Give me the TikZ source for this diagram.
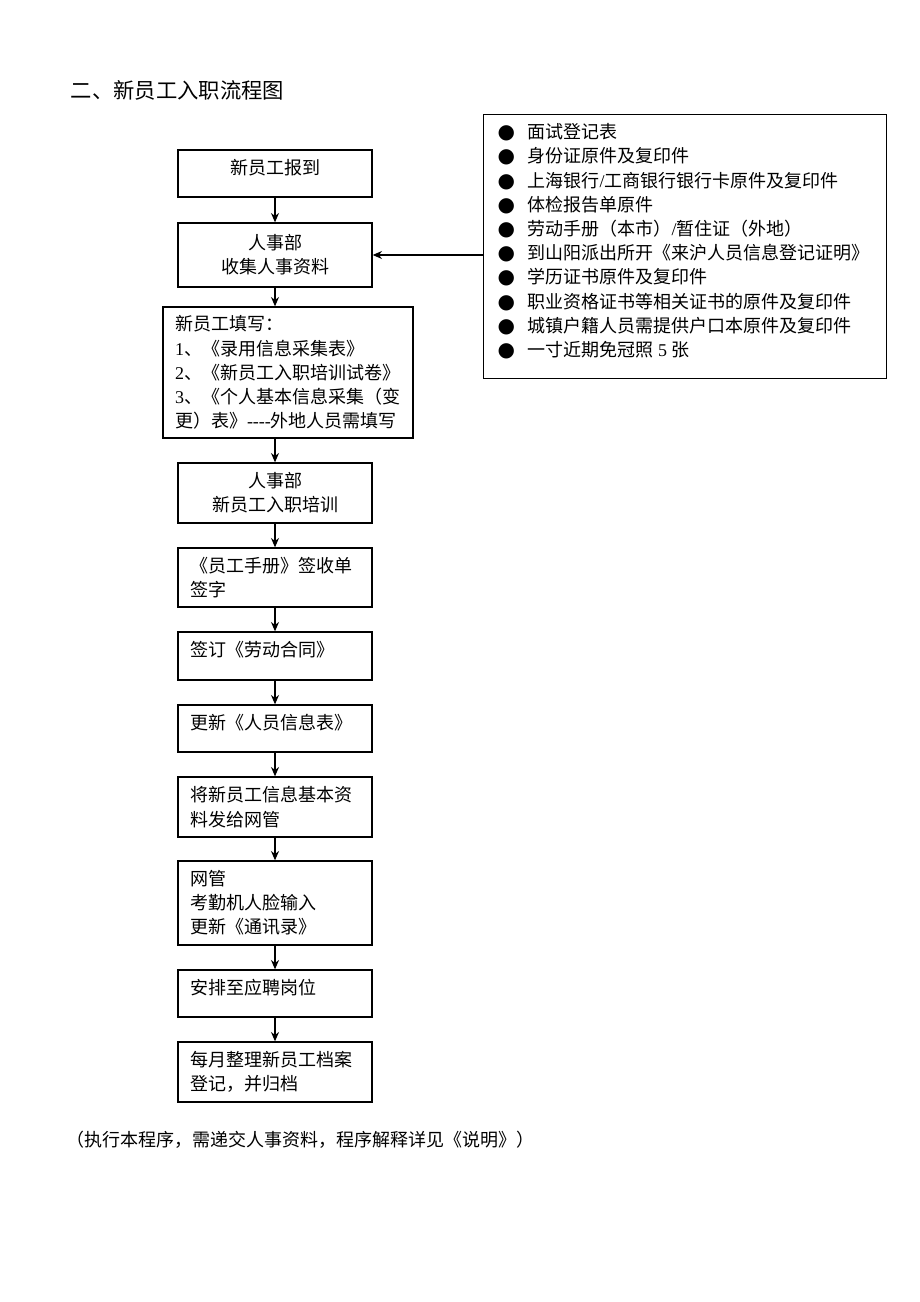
\documentclass[tikz,border=0pt]{standalone}
\usepackage{fontspec}
\setmainfont{Noto Sans CJK SC}
\newfontfamily\latin{Liberation Serif}
\newfontfamily\sym{DejaVu Sans}
\usetikzlibrary{arrows.meta}
\newcommand{\bul}[1]{\makebox[22.5pt][l]{\sym\fontsize{15pt}{15pt}\selectfont ●}#1\par}
\begin{document}
\begin{tikzpicture}[x=0.75pt,y=-0.75pt,
    font=\fontsize{13.5pt}{18.15pt}\selectfont,
    box/.style={draw,line width=1pt,minimum width=145.5pt,text width=127.5pt,inner xsep=9pt},
    midbox/.style={box,align=center},
    leftbox/.style={box,align=left},
    onebox/.style={leftbox,text depth=10.5pt},
    arr/.style={-{Stealth[length=7pt,width=6pt]},line width=1pt}]
    \useasboundingbox (0,0) rectangle (920,1302);

    \node[anchor=west,font=\fontsize{16pt}{20pt}\selectfont] (title) at (66,90) {二、新员工入职流程图};

    % main flow
    \node[midbox,minimum height=35.25pt,text depth=10.5pt] (report) at (275,173.5) {新员工报到};
    \node[midbox,minimum height=48pt] (collect) at (275,255) {人事部\\收集人事资料};
    \node[leftbox,minimum width=187.5pt,text width=169.5pt,minimum height=98.25pt] (fill) at (288,372.5)
        {新员工填写：\\{\latin 1}、《录用信息采集表》\\{\latin 2}、《新员工入职培训试卷》\\{\latin 3}、《个人基本信息采集（变\\更）表》{\latin ----}外地人员需填写};
    \node[midbox,minimum height=45pt] (train) at (275,493) {人事部\\新员工入职培训};
    \node[leftbox,minimum height=44.25pt] (handbook) at (275,577.5) {《员工手册》签收单\\签字};
    \node[onebox,minimum height=36pt] (contract) at (275,656) {签订《劳动合同》};
    \node[onebox,minimum height=35.25pt] (update) at (275,728.5) {更新《人员信息表》};
    \node[leftbox,minimum height=45pt] (send) at (275,807) {将新员工信息基本资\\料发给网管};
    \node[leftbox,minimum height=63pt] (netadmin) at (275,903) {网管\\考勤机人脸输入\\更新《通讯录》};
    \node[onebox,minimum height=35.25pt] (assign) at (275,993.5) {安排至应聘岗位};
    \node[leftbox,minimum height=45pt] (archive) at (275,1072) {每月整理新员工档案\\登记，并归档};

    % documents to hand in
    \node[draw,line width=1pt,anchor=north west,inner xsep=10.5pt,inner ysep=0pt,minimum width=302.25pt] (docs) at (483,114)
        {\parbox[c][198pt][t]{281.25pt}{\leavevmode\rule{0pt}{18pt}\bul{面试登记表}
        \bul{身份证原件及复印件}
        \bul{上海银行{\latin /}工商银行银行卡原件及复印件}
        \bul{体检报告单原件}
        \bul{劳动手册（本市）{\latin /}暂住证（外地）}
        \bul{到山阳派出所开《来沪人员信息登记证明》}
        \bul{学历证书原件及复印件}
        \bul{职业资格证书等相关证书的原件及复印件}
        \bul{城镇户籍人员需提供户口本原件及复印件}
        \bul{一寸近期免冠照{\latin\ 5 }张}}};

    \draw[arr] (report) -- (collect);
    \draw[arr] (collect.south) -- (collect.south |- fill.north);
    \draw[arr] (fill.south -| train.north) -- (train.north);
    \draw[arr] (train) -- (handbook);
    \draw[arr] (handbook) -- (contract);
    \draw[arr] (contract) -- (update);
    \draw[arr] (update) -- (send);
    \draw[arr] (send) -- (netadmin);
    \draw[arr] (netadmin) -- (assign);
    \draw[arr] (assign) -- (archive);
    \draw[arr] (docs.west |- collect.east) -- (collect.east);

    \node[anchor=west] (note) at (62,1140) {（执行本程序，需递交人事资料，程序解释详见《说明》）};
\end{tikzpicture}
\end{document}
